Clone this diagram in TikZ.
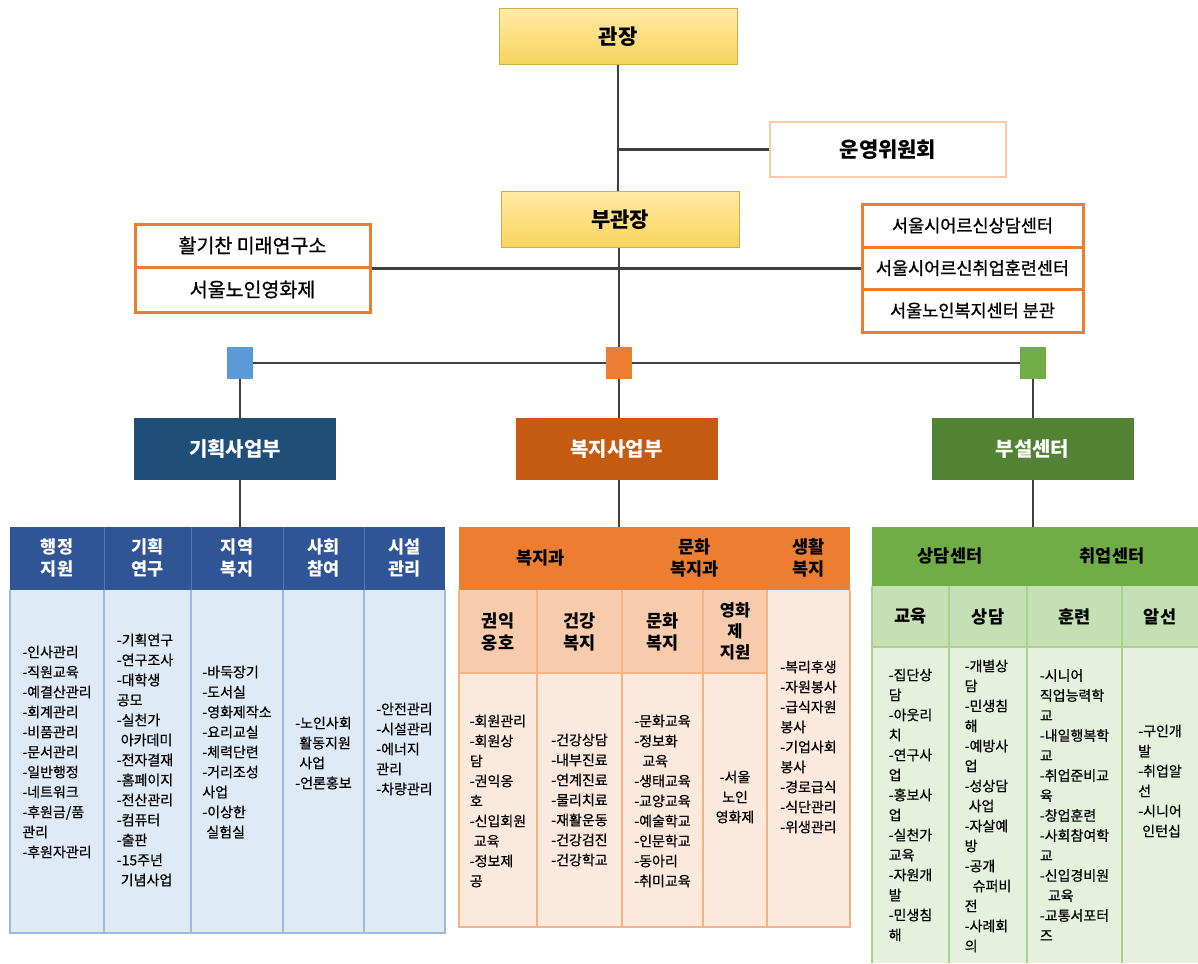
\documentclass[tikz,border=0pt]{standalone}
\usepackage{fontspec}
\setmainfont{Noto Sans CJK KR}
\newfontfamily\itmfont{Noto Sans CJK KR}[RawFeature={embolden=0.6}]
\newfontfamily\semifont{Noto Sans CJK KR}[RawFeature={embolden=0.9}]
\definecolor{lineC}{HTML}{404040}
\definecolor{goldT}{HTML}{FFEBA5}
\definecolor{goldB}{HTML}{F8D35C}
\definecolor{goldE}{HTML}{D1AE48}
\definecolor{orgB}{HTML}{ED7D31}
\definecolor{orgE}{HTML}{F4B183}
\definecolor{orgL}{HTML}{F8CBAD}
\definecolor{orgLL}{HTML}{FCE9DD}
\definecolor{orgD}{HTML}{C55A11}
\definecolor{unyE}{HTML}{F8CBAD}
\definecolor{bluD}{HTML}{1F4E79}
\definecolor{bluH}{HTML}{2F5597}
\definecolor{bluHL}{HTML}{5677B5}
\definecolor{bluSq}{HTML}{5B9BD5}
\definecolor{bluL}{HTML}{DEEBF7}
\definecolor{bluLine}{HTML}{9DB9DD}
\definecolor{grnD}{HTML}{548235}
\definecolor{grnH}{HTML}{70AD47}
\definecolor{grnSq}{HTML}{70AD47}
\definecolor{grnL}{HTML}{C5E0B4}
\definecolor{grnLL}{HTML}{E5F1DC}
\definecolor{grnLine}{HTML}{A9D18E}
\begin{document}
\begin{tikzpicture}[x=1pt,y=-1pt,
  conn/.style={draw=lineC, line width=1.5pt},
  hconn/.style={draw=lineC, line width=2.6pt},
  topbox/.style={draw=goldE, line width=0.8pt, top color=goldT, bottom color=goldB, font=\bfseries\fontsize{21}{25}\selectfont, inner sep=0, minimum width=238, minimum height=56},
  sidebox/.style={draw=orgB, line width=3pt, fill=white, font=\semifont\fontsize{17.5}{20}\selectfont, inner sep=0},
  sqbox/.style={minimum width=26, minimum height=32, inner sep=0},
  dept/.style={minimum width=202, minimum height=62, inner sep=0, text=white, font=\bfseries\fontsize{20}{24}\selectfont},
  hdr/.style={align=center, font=\bfseries\fontsize{17.5}{22}\selectfont, inner sep=0},
  itm/.style={align=left, font=\itmfont\fontsize{14}{20}\selectfont, inner sep=0},
]
\useasboundingbox (0,0) rectangle (1198,963);
\fill[white] (0,0) rectangle (1198,963);

% ---------------- top part ----------------
\node[topbox] (gwan) at (618,36.5) {관장};
\node[topbox] (bu) at (620,219.5) {부관장};
\node[draw=unyE, line width=1.5pt, fill=white, minimum width=236, minimum height=55, inner sep=0,
      font=\bfseries\fontsize{21}{24}\selectfont] (uny) at (888,149.5) {운영위원회};

\node[sidebox, font=\semifont\fontsize{19.5}{22}\selectfont, minimum width=235, minimum height=43] (lb1) at (252.5,245.5) {활기찬 미래연구소};
\node[sidebox, font=\semifont\fontsize{19.5}{22}\selectfont, minimum width=235, minimum height=45] (lb2) at (252.5,289.5) {서울노인영화제};

\node[sidebox, minimum width=221, minimum height=43] (rb1) at (972.5,225.5) {서울시어르신상담센터};
\node[sidebox, minimum width=221, minimum height=42] (rb2) at (972.5,268) {서울시어르신취업훈련센터};
\node[sidebox, minimum width=221, minimum height=43] (rb3) at (972.5,310.5) {서울노인복지센터 분관};

\node[sqbox, fill=bluSq] (sqB) at (240,363) {};
\node[sqbox, fill=orgB] (sqO) at (619,363) {};
\node[sqbox, fill=grnSq] (sqG) at (1033,363) {};

\node[dept, fill=bluD] (dB) at (235,449) {기획사업부};
\node[dept, fill=orgD] (dO) at (616.5,449) {복지사업부};
\node[dept, fill=grnD] (dG) at (1032.5,449) {부설센터};

\coordinate (tB) at (240,527);
\coordinate (tO) at (619,527);
\coordinate (tG) at (1033,527);

% connectors
\draw[conn] (gwan.south) -- (bu.north -| gwan.south);
\draw[conn] (bu.south -| sqO.north) -- (sqO.north);
\draw[hconn] (uny.west) -- (uny.west -| gwan.south);
\draw[hconn] (lb1.south east) -- (lb1.south east -| rb2.west);
\draw[hconn] (sqB.east) -- (sqO.west);
\draw[hconn] (sqO.east) -- (sqG.west);
\draw[conn] (sqB.south) -- (dB.north -| sqB.south);
\draw[conn] (sqO.south) -- (dO.north -| sqO.south);
\draw[conn] (sqG.south) -- (dG.north -| sqG.south);
\draw[conn] (dB.south -| tB) -- (tB);
\draw[conn] (dO.south -| tO) -- (tO);
\draw[conn] (dG.south -| tG) -- (tG);

% ---------------- blue table ----------------
\fill[bluH] (10,527) rectangle (445,590);
\fill[bluL] (10,590) rectangle (445,933);
\foreach \xx in {104,191,283,364} {
  \draw[bluHL, line width=1pt] (\xx,527) -- (\xx,590);
  \draw[bluLine, line width=1.2pt] (\xx,590) -- (\xx,933);
}
\draw[bluLine, line width=1.5pt] (10,590) -- (10,933) -- (445,933) -- (445,590);

\node[hdr, text=white] (hB1) at (57,558) {행정\\지원};
\node[hdr, text=white] (hB2) at (147.5,558) {기획\\연구};
\node[hdr, text=white] (hB3) at (237,558) {지역\\복지};
\node[hdr, text=white] (hB4) at (323.5,558) {사회\\참여};
\node[hdr, text=white] (hB5) at (404.5,558) {시설\\관리};

\node[itm] (iB1) at (57,752) {-인사관리\\-직원교육\\-예결산관리\\-회계관리\\-비품관리\\-문서관리\\-일반행정\\-네트워크\\-후원금/품\\관리\\-후원자관리};
\node[itm] (iB2) at (145,760) {-기획연구\\-연구조사\\-대학생\\공모\\-실천가\\\hspace*{4pt}아카데미\\-전자결재\\-홈페이지\\-전산관리\\-컴퓨터\\-출판\\-15주년\\\hspace*{4pt}기념사업};
\node[itm] (iB3) at (237,752) {-바둑장기\\-도서실\\-영화제작소\\-요리교실\\-체력단련\\-거리조성\\사업\\-이상한\\\hspace*{4pt}실험실};
\node[itm] (iB4) at (323.5,753) {-노인사회\\\hspace*{4pt}활동지원\\\hspace*{4pt}사업\\-언론홍보};
\node[itm] (iB5) at (404.5,749) {-안전관리\\-시설관리\\-에너지\\관리\\-차량관리};

% ---------------- orange table ----------------
\fill[orgB] (459,527) rectangle (850,590);
\fill[orgL] (459,590) rectangle (767,673);
\fill[orgLL] (459,673) rectangle (767,927);
\fill[orgLL] (767,590) rectangle (850,927);
\foreach \xx in {537,622,703} {
  \draw[orgE, line width=1.2pt] (\xx,590) -- (\xx,927);
}
\draw[orgE, line width=1.2pt] (767,590) -- (767,927);
\draw[orgE, line width=1.5pt] (459,673) -- (767,673);
\draw[orgE, line width=1.5pt] (459,590) -- (459,927) -- (850,927) -- (850,590);

\node[hdr] (hO1) at (540.5,558) {복지과};
\node[hdr] (hO2) at (694.5,558) {문화\\복지과};
\node[hdr] (hO3) at (808.5,558) {생활\\복지};
\node[hdr] (sO1) at (498,631.5) {권익\\옹호};
\node[hdr] (sO2) at (579.5,631.5) {건강\\복지};
\node[hdr] (sO3) at (662.5,631.5) {문화\\복지};
\node[hdr, font=\bfseries\fontsize{16.5}{21}\selectfont] (sO4) at (735,631.5) {영화\\제\\지원};

\node[itm] (iO1) at (498,801) {-회원관리\\-회원상\\담\\-권익옹\\호\\-신입회원\\\hspace*{4pt}교육\\-정보제\\공};
\node[itm] (iO2) at (579.5,800) {-건강상담\\-내부진료\\-연계진료\\-물리치료\\-재활운동\\-건강검진\\-건강학교};
\node[itm] (iO3) at (662.5,801) {-문화교육\\-정보화\\\hspace*{8pt}교육\\-생태교육\\-교양교육\\-예술학교\\-인문학교\\-동아리\\-취미교육};
\node[itm, align=center] (iO4) at (735,797) {-서울\\노인\\영화제};
\node[itm] (iO5) at (808.5,747) {-복리후생\\-자원봉사\\-급식자원\\봉사\\-기업사회\\봉사\\-경로급식\\-식단관리\\-위생관리};

% ---------------- green table ----------------
\fill[grnH] (872,527) rectangle (1198,586);
\fill[grnL] (872,586) rectangle (1198,647);
\fill[grnLL] (872,647) rectangle (1198,963);
\draw[grnLine, line width=1.2pt] (949,586) -- (949,963);
\draw[grnLine, line width=1.2pt] (1122,586) -- (1122,963);
\draw[grnLine, line width=1.2pt] (1027,586) -- (1027,963);
\draw[grnLine, line width=1.5pt] (872,647) -- (1198,647);
\draw[grnLine, line width=1.5pt] (872,586) -- (872,963);

\node[hdr] (hG1) at (950,556) {상담센터};
\node[hdr] (hG2) at (1112,556) {취업센터};
\node[hdr] (sG1) at (910.5,616.5) {교육};
\node[hdr] (sG2) at (988,616.5) {상담};
\node[hdr] (sG3) at (1074.5,616.5) {훈련};
\node[hdr] (sG4) at (1160,616.5) {알선};

\node[itm] (iG1) at (910.5,805) {-집단상\\담\\-아웃리\\치\\-연구사\\업\\-홍보사\\업\\-실천가\\교육\\-자원개\\발\\-민생침\\해};
\node[itm] (iG2) at (988,806) {-개별상\\담\\-민생침\\해\\-예방사\\업\\-성상담\\\hspace*{4pt}사업\\-자살예\\방\\-공개\\\hspace*{8pt}슈퍼비\\전\\-사례회\\의};
\node[itm] (iG3) at (1074.5,805) {-시니어\\직업능력학\\교\\-내일행복학\\교\\-취업준비교\\육\\-창업훈련\\-사회참여학\\교\\-신입경비원\\\hspace*{8pt}교육\\-교통서포터\\즈};
\node[itm] (iG4) at (1160,781) {-구인개\\발\\-취업알\\선\\-시니어\\\hspace*{4pt}인턴십};
\end{tikzpicture}
\end{document}
